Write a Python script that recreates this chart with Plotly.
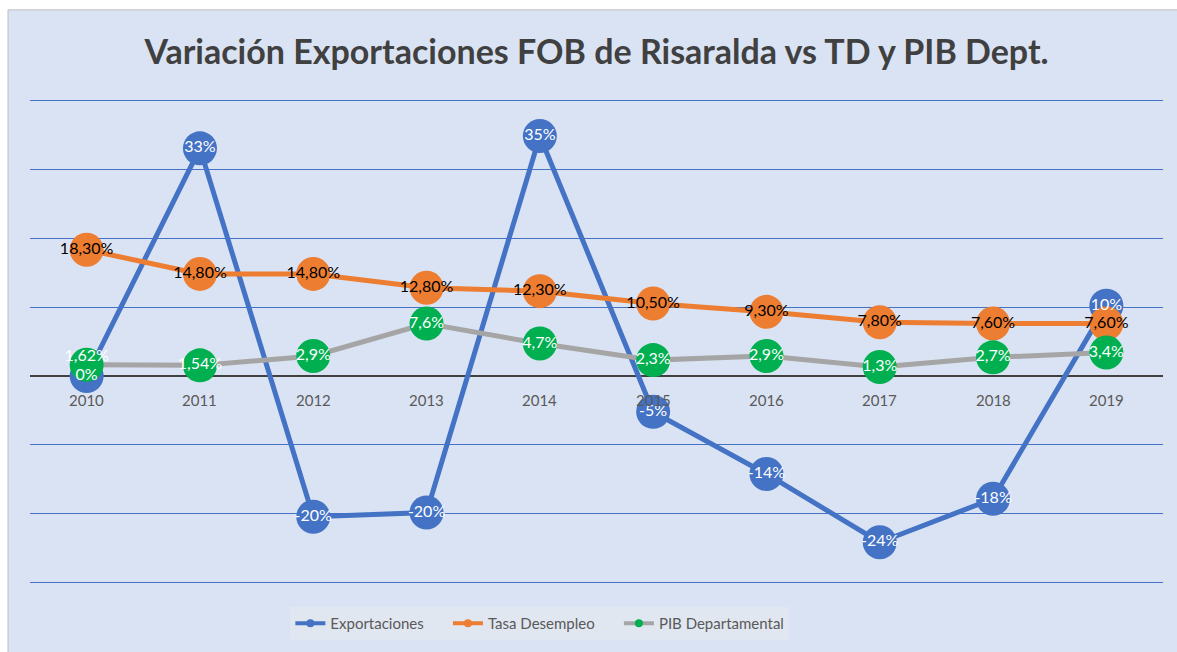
import plotly.graph_objects as go

years = ["2010", "2011", "2012", "2013", "2014", "2015", "2016", "2017", "2018", "2019"]

exportaciones = [0, 33, -20.4, -19.8, 34.8, -5.2, -14.2, -24.1, -17.8, 10.2]
exportaciones_txt = ["0%", "33%", "-20%", "-20%", "35%", "-5%", "-14%", "-24%", "-18%", "10%"]

desempleo = [18.3, 14.8, 14.8, 12.8, 12.3, 10.5, 9.3, 7.8, 7.6, 7.6]
desempleo_txt = ["18,30%", "14,80%", "14,80%", "12,80%", "12,30%", "10,50%", "9,30%", "7,80%", "7,60%", "7,60%"]

pib = [1.62, 1.54, 2.9, 7.6, 4.7, 2.3, 2.9, 1.3, 2.7, 3.4]
pib_txt = ["1,62%", "1,54%", "2,9%", "7,6%", "4,7%", "2,3%", "2,9%", "1,3%", "2,7%", "3,4%"]

BLUE = "#4472c4"
ORANGE = "#ed7d31"
GRAY = "#a5a5a5"
GREEN = "#00b050"
BG = "#dae3f3"
FONT = "Lato"

fig = go.Figure()

# series: lines + big markers
fig.add_trace(go.Scatter(x=years, y=exportaciones, mode="lines+markers", showlegend=False,
                         line=dict(color=BLUE, width=5), marker=dict(color=BLUE, size=34)))
fig.add_trace(go.Scatter(x=years, y=desempleo, mode="lines+markers", showlegend=False,
                         line=dict(color=ORANGE, width=5), marker=dict(color=ORANGE, size=34)))
fig.add_trace(go.Scatter(x=years, y=pib, mode="lines+markers", showlegend=False,
                         line=dict(color=GRAY, width=5), marker=dict(color=GREEN, size=34)))

# data labels on top of everything
fig.add_trace(go.Scatter(x=years, y=exportaciones, mode="text", text=exportaciones_txt, showlegend=False,
                         textfont=dict(family=FONT, size=16, color="white")))
fig.add_trace(go.Scatter(x=years, y=desempleo, mode="text", text=desempleo_txt, showlegend=False,
                         textfont=dict(family=FONT, size=16, color="black")))
pib_pos = ["top center"] + ["middle center"] * 9
fig.add_trace(go.Scatter(x=years, y=pib, mode="text", text=pib_txt, showlegend=False,
                         textposition=pib_pos,
                         textfont=dict(family=FONT, size=16, color="white")))

# legend entries with small markers
pad = "\u00a0" * 5
fig.add_trace(go.Scatter(x=[None], y=[None], mode="lines+markers", name="Exportaciones" + pad,
                         line=dict(color=BLUE, width=4), marker=dict(color=BLUE, size=8)))
fig.add_trace(go.Scatter(x=[None], y=[None], mode="lines+markers", name="Tasa Desempleo" + pad,
                         line=dict(color=ORANGE, width=4), marker=dict(color=ORANGE, size=8)))
fig.add_trace(go.Scatter(x=[None], y=[None], mode="lines+markers", name="PIB Departamental",
                         line=dict(color=GRAY, width=4), marker=dict(color=GREEN, size=8)))

# year labels sitting under the zero line
for i, yr in enumerate(years):
    fig.add_annotation(x=i, y=0, text=yr, showarrow=False, yanchor="top", yshift=-13,
                       font=dict(family=FONT, size=15, color="#595959"))

# chart area background with border
fig.add_shape(type="rect", xref="paper", yref="paper", x0=-0.0194, x1=1.02, y0=-0.15, y1=1.181,
              fillcolor=BG, line=dict(color="#bfbfbf", width=1), layer="below")

fig.update_layout(
    width=1177, height=652,
    paper_bgcolor="white", plot_bgcolor=BG,
    margin=dict(l=30, r=14, t=98, b=64),
    title=dict(text="<b>Variación Exportaciones FOB de Risaralda vs TD y PIB Dept.</b>",
               x=0.5, xref="paper", y=1 - 52 / 652, yanchor="middle",
               font=dict(family=FONT, size=34, color="#404040")),
    xaxis=dict(type="category", range=[-0.5, 9.5], showticklabels=False, showgrid=False,
               zeroline=False, showline=False),
    yaxis=dict(range=[-30.3, 40.3], dtick=10, showticklabels=False, gridcolor=BLUE, gridwidth=1,
               zeroline=True, zerolinecolor="#404040", zerolinewidth=2),
    legend=dict(orientation="h", x=0.45, xanchor="center", y=-0.045, yanchor="top",
                bgcolor="#e1e7f1", font=dict(family=FONT, size=15, color="#595959")),
    showlegend=True,
)

fig.write_html("out.html", config={"displayModeBar": False},
               post_script="document.body.style.margin='0';")
